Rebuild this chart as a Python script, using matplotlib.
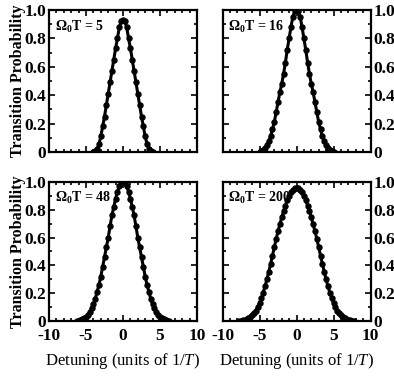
import numpy as np
import matplotlib
matplotlib.use("Agg")
import matplotlib.pyplot as plt
from matplotlib.ticker import MultipleLocator

plt.rcParams['font.family'] = 'Liberation Serif'
plt.rcParams['mathtext.fontset'] = 'custom'
plt.rcParams['mathtext.rm'] = 'Liberation Serif:bold'
plt.rcParams['mathtext.it'] = 'Liberation Serif:italic'
plt.rcParams['mathtext.bf'] = 'Liberation Serif:bold'

# Omega_0 T values of the four panels
pulse_areas = [5, 16, 48, 200]

# transition probability, sampled every 0.25 in detuning (units of 1/T)
x1 = np.arange(-4, 4.01, 0.25)
p1 = [0.0, 0.005, 0.02, 0.055, 0.11, 0.18, 0.25, 0.33, 0.41, 0.49, 0.57,
      0.65, 0.73, 0.80, 0.88, 0.92, 0.93, 0.92, 0.88, 0.80, 0.73, 0.65,
      0.57, 0.49, 0.41, 0.33, 0.25, 0.18, 0.11, 0.055, 0.02, 0.005, 0.0]

x2 = np.arange(-5, 5.01, 0.25)
p2 = [0.0, 0.006, 0.015, 0.03, 0.05, 0.075, 0.11, 0.16, 0.21, 0.28, 0.35,
      0.42, 0.48, 0.55, 0.63, 0.72, 0.80, 0.88, 0.95, 0.99, 1.0, 0.99,
      0.95, 0.88, 0.80, 0.72, 0.63, 0.55, 0.48, 0.42, 0.35, 0.28, 0.21,
      0.16, 0.11, 0.075, 0.05, 0.03, 0.015, 0.006, 0.0]

x3 = np.arange(-6.25, 6.26, 0.25)
p3 = [0.0, 0.003, 0.007, 0.012, 0.02, 0.03, 0.045, 0.065, 0.09, 0.12, 0.16,
      0.21, 0.26, 0.32, 0.39, 0.46, 0.53, 0.60, 0.68, 0.76, 0.82, 0.88,
      0.93, 0.97, 0.99, 1.0, 0.99, 0.97, 0.93, 0.88, 0.82, 0.76, 0.68,
      0.60, 0.53, 0.46, 0.39, 0.32, 0.26, 0.21, 0.16, 0.12, 0.09, 0.065,
      0.045, 0.03, 0.02, 0.012, 0.007, 0.003, 0.0]

x4 = np.arange(-7.75, 7.76, 0.25)
p4 = [0.0, 0.002, 0.004, 0.007, 0.012, 0.019, 0.028, 0.04, 0.055, 0.075,
      0.10, 0.13, 0.165, 0.205, 0.25, 0.30, 0.355, 0.41, 0.47, 0.53, 0.59,
      0.645, 0.695, 0.745, 0.79, 0.83, 0.87, 0.90, 0.925, 0.945, 0.955,
      0.96, 0.955, 0.945, 0.925, 0.90, 0.87, 0.83, 0.79, 0.745, 0.695,
      0.645, 0.59, 0.53, 0.47, 0.41, 0.355, 0.30, 0.25, 0.205, 0.165, 0.13,
      0.10, 0.075, 0.055, 0.04, 0.028, 0.019, 0.012, 0.007, 0.004, 0.002, 0.0]

xs = [x1, x2, x3, x4]
ps = [p1, p2, p3, p4]

yticks = [0, 0.2, 0.4, 0.6, 0.8, 1.0]
ytick_labels = ['0', '0.2', '0.4', '0.6', '0.8', '1.0']
xticks = [-10, -5, 0, 5, 10]
xtick_labels = ['-10', '-5', '0', '5', '10']

fig = plt.figure(figsize=(3.94, 3.79), dpi=100)

w = 148 / 394
positions = [
    [49 / 394, 1 - 152 / 379, w, 142 / 379],
    [222.5 / 394, 1 - 152 / 379, w, 142 / 379],
    [49 / 394, 1 - 321 / 379, w, 139 / 379],
    [222.5 / 394, 1 - 321 / 379, w, 139 / 379],
]

for i in range(4):
    ax = fig.add_axes(positions[i])
    ax.plot(xs[i], ps[i], color='black', lw=2.2, zorder=2)
    ax.plot(xs[i], ps[i], 'o', color='black', ms=3.6, zorder=3)

    ax.set_xlim(-10, 10)
    ax.set_ylim(0, 1.0)
    ax.set_xticks(xticks)
    ax.set_yticks(yticks)
    ax.xaxis.set_minor_locator(MultipleLocator(1))
    ax.yaxis.set_minor_locator(MultipleLocator(0.1))
    ax.tick_params(which='both', direction='in', top=True, right=True,
                   width=1.2, labelsize=12.5, pad=2)
    ax.tick_params(axis='x', which='major', pad=5)
    ax.tick_params(which='major', length=4)
    ax.tick_params(which='minor', length=2.2)
    for s in ax.spines.values():
        s.set_linewidth(1.6)

    ax.set_yticklabels(ytick_labels, fontweight='bold')
    if i < 2:
        ax.set_xticklabels([])
    else:
        ax.set_xticklabels(xtick_labels, fontweight='bold')
        ax.set_xlabel(r'Detuning (units of 1/$T$)', fontsize=12,
                      fontweight='normal', labelpad=5)
    if i % 2 == 0:
        ax.set_ylabel('Transition Probability', fontsize=11.5,
                      fontweight='bold', labelpad=-1)
    else:
        ax.yaxis.tick_right()
        ax.yaxis.set_ticks_position('both')
        ax.tick_params(which='both', direction='in', labelleft=False,
                       labelright=True)

    ax.text(0.04, 0.94, r'$\Omega_0$T = %d' % pulse_areas[i],
            transform=ax.transAxes, fontsize=10, fontweight='bold',
            va='top', ha='left')

fig.savefig('out.png', dpi=100)
